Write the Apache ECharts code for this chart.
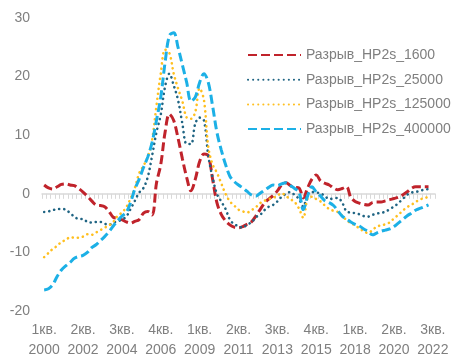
<!DOCTYPE html>
<html>
<head>
<meta charset="utf-8">
<script src="https://cdn.jsdelivr.net/npm/echarts@6/dist/echarts.min.js"></script>
<style>
  html, body { margin: 0; padding: 0; background: #ffffff; }
  #chart { width: 455px; height: 357px; }
</style>
</head>
<body>
<div id="chart"></div>
<script>
// Quarter labels: 2000 Q1 .. 2022 Q3
const quarterNames = ['1кв.', '2кв.', '3кв.', '4кв.'];
const startYear = 2000;
const quarterCount = 91;

// Credit gap estimates (HP two-sided filter, different lambda), p.p.
const gap1600 = [
  1.5, 1.0, 0.8, 1.2, 1.6, 1.7, 1.5, 1.4, 0.9, 0.3,
  -0.4, -1.2, -1.9, -2.0, -2.2, -3.0, -4.0, -4.2, -4.4, -4.8,
  -5.0, -4.7, -4.4, -3.3, -3.0, -3.6, 1.8, 5.0, 10.5, 13.6,
  12.5, 9.5, 6.0, 2.8, 0.5, 2.5, 5.5, 6.8, 6.5, 2.5,
  -1.5, -3.5, -4.6, -5.3, -5.7, -5.8, -5.6, -5.2, -4.8, -3.8,
  -2.7, -1.6, -0.9, -0.3, 0.5, 1.5, 1.9, 1.4, 1.1, 1.0,
  -0.7, 1.0, 2.5, 3.2, 2.2, 1.8, 1.5, 1.0, 0.7, 0.9,
  1.2, -0.6, -1.3, -1.6, -1.8, -1.9, -1.5, -1.4, -1.4, -1.2,
  -1.0, -0.8, -0.6, -0.2, 0.3, 0.9, 1.2, 1.2, 1.2, 1.2
];
const gap25000 = [
  -3.1, -3.0, -2.8, -2.6, -2.6, -2.7, -3.3, -3.9, -4.3, -4.3,
  -4.8, -4.9, -4.8, -4.8, -5.1, -5.3, -4.9, -4.7, -4.4, -3.9,
  -2.6, -1.2, 0.2, 1.0, 2.9, 6.5, 10.5, 13.5, 18.3, 20.5,
  18.5, 16.0, 12.0, 8.5, 8.5, 12.0, 13.0, 12.5, 6.5, 2.8,
  0.0, -1.3, -2.6, -4.4, -5.2, -5.5, -5.8, -5.2, -4.9, -4.0,
  -3.6, -2.8, -2.2, -1.9, -1.3, -0.5, 0.0, 0.3, -0.2, -0.9,
  -2.2, 0.0, 0.3, 0.2, 0.1, -0.4, -0.9, -0.8, -0.7, -1.5,
  -3.0, -3.2, -3.3, -3.5, -3.8, -3.9, -3.6, -3.4, -3.2, -3.1,
  -2.6, -2.2, -1.6, -0.9, -0.2, 0.2, 0.3, 0.5, 0.7, 0.8
];
const gap125000 = [
  -10.8, -10.1, -9.4, -8.9, -8.2, -7.9, -7.4, -7.5, -7.5, -7.3,
  -6.9, -7.0, -6.6, -6.2, -5.8, -5.4, -4.8, -3.8, -3.2, -2.3,
  -0.8, 1.0, 3.5, 4.8, 6.3, 9.2, 15.0, 20.5, 24.6, 24.0,
  20.5, 18.0, 15.8, 13.0, 12.8, 14.0, 18.0, 16.0, 8.0, 5.0,
  3.6, 1.8, 0.0, -1.3, -2.0, -2.7, -3.0, -3.2, -2.8, -2.3,
  -1.6, -1.2, -0.9, -0.7, -0.3, 0.1, -0.4, -0.9, -1.4, -2.5,
  -4.1, -0.8, -0.5, -0.9, -1.3, -2.0, -2.6, -2.9, -3.1, -3.7,
  -4.5, -5.0, -5.4, -5.9, -6.4, -6.7, -6.2, -5.6, -5.4, -5.2,
  -4.9, -4.2, -3.6, -2.9, -2.3, -1.9, -1.4, -1.0, -0.7, -0.6
];
const gap400000 = [
  -16.4, -16.2, -15.5, -14.1, -13.0, -12.3, -11.7, -11.0, -10.7, -10.5,
  -10.0, -9.2, -8.7, -8.0, -7.3, -6.5, -5.5, -4.6, -3.8, -3.2,
  -1.5, 0.8, 2.5, 4.5, 6.3, 8.8, 12.5, 16.5, 22.4, 27.0,
  27.5, 25.0, 22.0, 19.0, 15.8, 16.5, 19.0, 20.5, 19.0, 15.0,
  10.5, 7.5, 5.0, 3.0, 2.1, 1.5, 1.0, 0.4, -0.2, -0.4,
  0.1, 0.6, 1.1, 1.5, 1.4, 1.7, 1.9, 1.4, 0.9, 0.3,
  -2.7, -0.4, 1.2, 0.3, -0.4, -1.2, -1.5, -2.0, -2.9, -3.8,
  -4.3, -4.8, -5.2, -5.5, -6.0, -6.4, -7.0, -6.7, -6.4, -6.2,
  -6.0, -5.6, -5.0, -4.4, -3.8, -3.3, -2.8, -2.5, -2.2, -1.9
];

const seriesNames = ['Разрыв_HP2s_1600', 'Разрыв_HP2s_25000', 'Разрыв_HP2s_125000', 'Разрыв_HP2s_400000'];
const seriesColors = ['#c0232b', '#1f6483', '#ffbf1f', '#1cb0e6'];
const yTicks = { min: -20, max: 30, step: 10 };

const categories = [];
for (let i = 0; i < quarterCount; i++) {
  const year = startYear + Math.floor(i / 4);
  categories.push(quarterNames[i % 4] + '\n' + year);
}

const textGray = '#7f7f7f';
const fontStack = 'Liberation Sans, Arial, sans-serif';
const dashed = [9, 4];
const dotted = [0.1, 5];

function lineSeries(name, data, color, dash, width, cap) {
  return {
    name: name,
    type: 'line',
    xAxisIndex: 0,
    data: data,
    smooth: 0.35,
    symbol: 'none',
    color: color,
    lineStyle: { color: color, width: width, type: dash, cap: cap },
    emphasis: { disabled: true }
  };
}

const chart = echarts.init(document.getElementById('chart'), null, { renderer: 'canvas' });
chart.setOption({
  animation: false,
  backgroundColor: '#ffffff',
  textStyle: { fontFamily: fontStack },
  grid: { left: 42, right: 20, top: 18, bottom: 46, containLabel: false, outerBoundsMode: 'none' },
  legend: {
    orient: 'vertical',
    left: 247,
    top: 48,
    padding: 0,
    itemWidth: 53,
    itemHeight: 14,
    itemGap: 10.7,
    itemStyle: { opacity: 0, borderWidth: 0 },
    textStyle: { fontSize: 14, color: textGray, fontFamily: fontStack },
    data: seriesNames
  },
  xAxis: [
    {
      type: 'category',
      data: categories,
      boundaryGap: true,
      axisLine: { onZero: true, lineStyle: { color: '#d9d9d9', width: 1.5 } },
      axisTick: { show: true, interval: 0, length: 5, lineStyle: { color: '#d9d9d9', width: 1 } },
      axisLabel: { show: false },
      splitLine: { show: false }
    },
    {
      type: 'category',
      data: categories,
      boundaryGap: true,
      position: 'bottom',
      axisLine: { show: false, onZero: false },
      axisTick: { show: false },
      axisLabel: {
        interval: 8,
        margin: 9,
        fontSize: 14,
        lineHeight: 20,
        color: textGray,
        fontFamily: fontStack
      },
      splitLine: { show: false }
    }
  ],
  yAxis: {
    type: 'value',
    min: yTicks.min,
    max: yTicks.max,
    interval: yTicks.step,
    axisLine: { show: false },
    axisTick: { show: false },
    splitLine: { show: false },
    axisLabel: { fontSize: 14, color: textGray, margin: 12, fontFamily: fontStack }
  },
  series: [
    lineSeries(seriesNames[0], gap1600, seriesColors[0], dashed, 3, 'butt'),
    lineSeries(seriesNames[1], gap25000, seriesColors[1], dotted, 2.6, 'round'),
    lineSeries(seriesNames[2], gap125000, seriesColors[2], dotted, 2.6, 'round'),
    lineSeries(seriesNames[3], gap400000, seriesColors[3], dashed, 3, 'butt')
  ]
});
</script>
</body>
</html>
